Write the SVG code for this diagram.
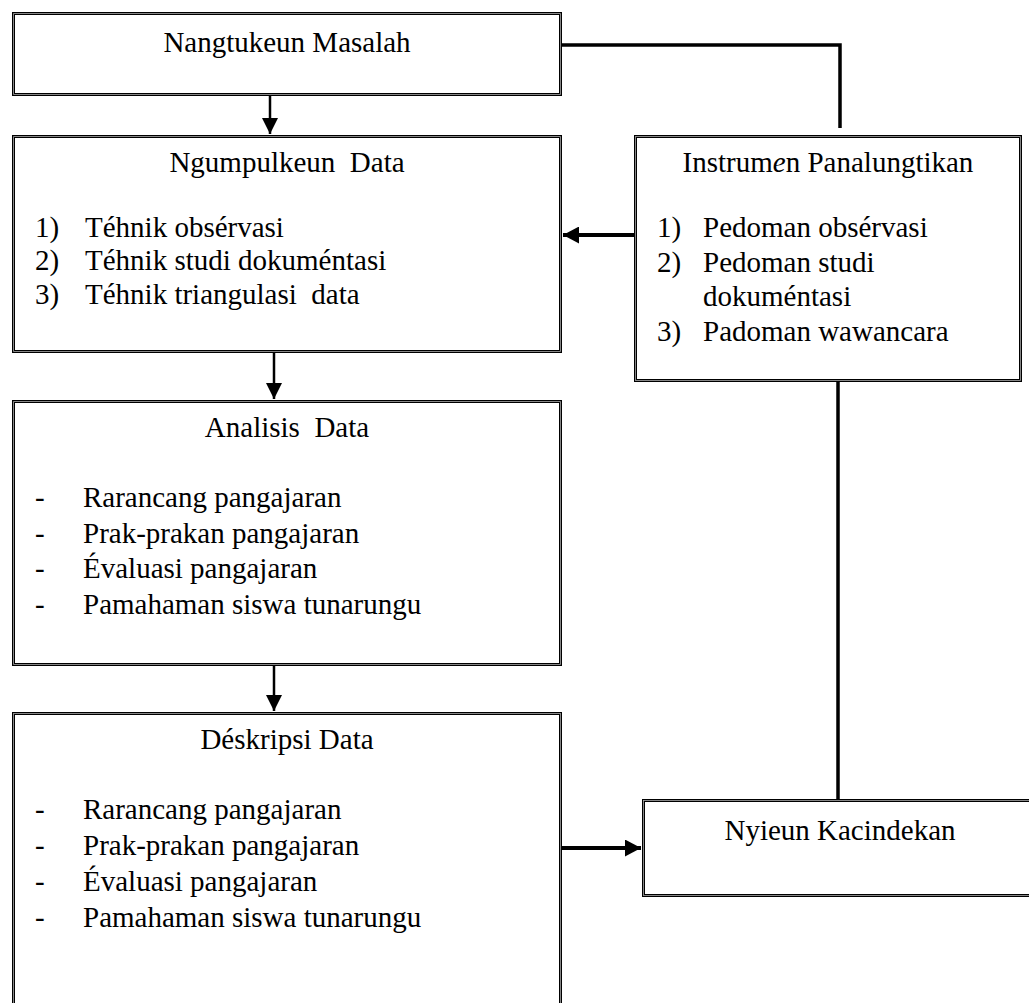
<svg xmlns="http://www.w3.org/2000/svg" width="1029" height="1003" viewBox="0 0 1029 1003">
<style>
  .box-o { fill: #ffffff; stroke: #000000; stroke-width: 3; }
  .box-i { fill: none; stroke: #a8a8a8; stroke-width: 0.8; }
  .t { font-family: 'Liberation Serif', 'DejaVu Serif', serif; font-size: 29px; fill: #000000; white-space: pre; }
  .c { text-anchor: middle; }
  .conn { fill: none; stroke: #000000; }
</style>
<defs>
  <marker id="arrV" markerUnits="userSpaceOnUse" markerWidth="16" markerHeight="16" viewBox="0 0 16 16" refX="16" refY="8" orient="auto">
    <path d="M0,0 L16,8 L0,16 Z" fill="#000"/>
  </marker>
  <marker id="arrH" markerUnits="userSpaceOnUse" markerWidth="16" markerHeight="17" viewBox="0 0 16 17" refX="16" refY="8.5" orient="auto">
    <path d="M0,0 L16,8.5 L0,17 Z" fill="#000"/>
  </marker>
</defs>
<rect x="0" y="0" width="1029" height="1003" fill="#ffffff"/>

<g id="connectors">
  <line class="conn" x1="270" y1="96" x2="270" y2="134" stroke-width="2.5" marker-end="url(#arrV)"/>
  <line class="conn" x1="274" y1="353" x2="274" y2="399" stroke-width="2.5" marker-end="url(#arrV)"/>
  <line class="conn" x1="274" y1="666" x2="274" y2="711" stroke-width="2.5" marker-end="url(#arrV)"/>
  <polyline class="conn" points="562,45 840,45 840,128" stroke-width="3.5"/>
  <line class="conn" x1="634" y1="235" x2="563" y2="235" stroke-width="4" marker-end="url(#arrH)"/>
  <line class="conn" x1="838" y1="382" x2="838" y2="799" stroke-width="3.5"/>
  <line class="conn" x1="562" y1="848" x2="641" y2="848" stroke-width="4" marker-end="url(#arrH)"/>
</g>

<g id="node-masalah" class="t" font-family="Liberation Serif, DejaVu Serif, serif">
  <rect class="box-o" x="13.5" y="13.5" width="547" height="81"/>
  <rect class="box-i" x="13.6" y="13.6" width="546.8" height="80.8"/>
  <text class="t c" x="287" y="52">Nangtukeun Masalah</text>
</g>

<g id="node-ngumpulkeun" class="t" font-family="Liberation Serif, DejaVu Serif, serif">
  <rect class="box-o" x="13.5" y="136.5" width="547" height="215"/>
  <rect class="box-i" x="13.6" y="136.6" width="546.8" height="214.8"/>
  <text class="t c" x="287" y="172">Ngumpulkeun  Data</text>
  <text class="t" x="35" y="237">1)</text><text class="t" x="85" y="237">Téhnik obsérvasi</text>
  <text class="t" x="35" y="270">2)</text><text class="t" x="85" y="270">Téhnik studi dokuméntasi</text>
  <text class="t" x="35" y="304">3)</text><text class="t" x="85" y="304">Téhnik triangulasi  data</text>
</g>

<g id="node-analisis" class="t" font-family="Liberation Serif, DejaVu Serif, serif">
  <rect class="box-o" x="13.5" y="401.5" width="547" height="263"/>
  <rect class="box-i" x="13.6" y="401.6" width="546.8" height="262.8"/>
  <text class="t c" x="287" y="437">Analisis  Data</text>
  <text class="t" x="35" y="507">-</text><text class="t" x="83" y="507">Rarancang pangajaran</text>
  <text class="t" x="35" y="543">-</text><text class="t" x="83" y="543">Prak-prakan pangajaran</text>
  <text class="t" x="35" y="578">-</text><text class="t" x="83" y="578">Évaluasi pangajaran</text>
  <text class="t" x="35" y="614">-</text><text class="t" x="83" y="614">Pamahaman siswa tunarungu</text>
</g>

<g id="node-deskripsi" class="t" font-family="Liberation Serif, DejaVu Serif, serif">
  <rect class="box-o" x="13.5" y="713.5" width="547" height="300"/>
  <rect class="box-i" x="13.6" y="713.6" width="546.8" height="299.8"/>
  <text class="t c" x="287" y="749">Déskripsi Data</text>
  <text class="t" x="35" y="819">-</text><text class="t" x="83" y="819">Rarancang pangajaran</text>
  <text class="t" x="35" y="855">-</text><text class="t" x="83" y="855">Prak-prakan pangajaran</text>
  <text class="t" x="35" y="891">-</text><text class="t" x="83" y="891">Évaluasi pangajaran</text>
  <text class="t" x="35" y="927">-</text><text class="t" x="83" y="927">Pamahaman siswa tunarungu</text>
</g>

<g id="node-instrumen" class="t" font-family="Liberation Serif, DejaVu Serif, serif">
  <rect class="box-o" x="635.5" y="136.5" width="385" height="244"/>
  <rect class="box-i" x="635.6" y="136.6" width="384.8" height="243.8"/>
  <text class="t c" x="828" y="172">Instrum<tspan font-style="italic">e</tspan>n Panalungtikan</text>
  <text class="t" x="657" y="237">1)</text><text class="t" x="703" y="237">Pedoman obsérvasi</text>
  <text class="t" x="657" y="272">2)</text><text class="t" x="703" y="272">Pedoman studi</text>
  <text class="t" x="703" y="306">dokuméntasi</text>
  <text class="t" x="657" y="341">3)</text><text class="t" x="703" y="341">Padoman wawancara</text>
</g>

<g id="node-kacindekan" class="t" font-family="Liberation Serif, DejaVu Serif, serif">
  <rect class="box-o" x="643.5" y="800.5" width="400" height="95"/>
  <rect class="box-i" x="643.6" y="800.6" width="399.8" height="94.8"/>
  <text class="t c" x="840" y="840">Nyieun Kacindekan</text>
</g>
</svg>
